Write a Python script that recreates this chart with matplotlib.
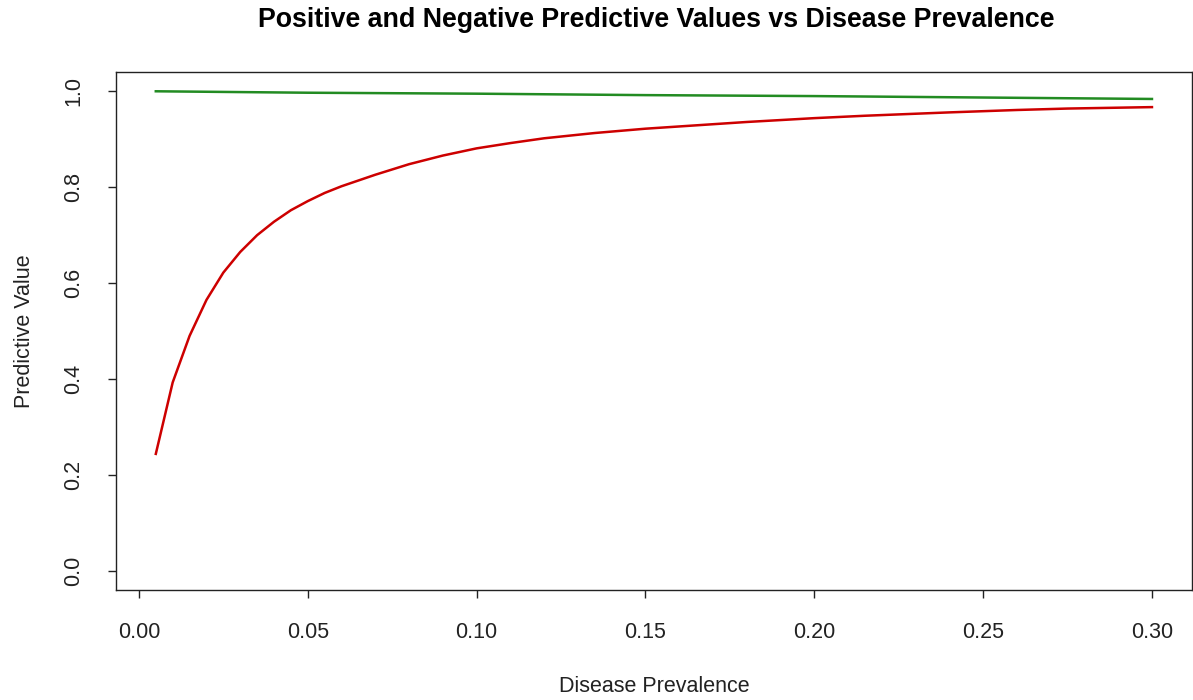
import numpy as np
import matplotlib
matplotlib.use("Agg")
import matplotlib.pyplot as plt

plt.rcParams['font.family'] = ['Liberation Sans', 'DejaVu Sans']

# values
prevalence = [0.005, 0.010, 0.015, 0.020, 0.025, 0.030, 0.035, 0.040, 0.045,
              0.050, 0.055, 0.060, 0.070, 0.080, 0.090, 0.100, 0.110, 0.120,
              0.135, 0.150, 0.165, 0.180, 0.200, 0.215, 0.240, 0.260, 0.275,
              0.300]
ppv = [0.244, 0.393, 0.490, 0.565, 0.622, 0.665, 0.700, 0.728, 0.752,
       0.771, 0.788, 0.802, 0.826, 0.848, 0.866, 0.881, 0.892, 0.902,
       0.913, 0.922, 0.929, 0.936, 0.944, 0.949, 0.956, 0.961, 0.964,
       0.967]
npv_prev = [0.005, 0.050, 0.100, 0.150, 0.200, 0.250, 0.300]
npv = [1.000, 0.997, 0.995, 0.992, 0.990, 0.987, 0.984]

xticks = [0.00, 0.05, 0.10, 0.15, 0.20, 0.25, 0.30]
yticks = [0.0, 0.2, 0.4, 0.6, 0.8, 1.0]

fig = plt.figure(figsize=(11.93, 7.0), dpi=100)
ax = fig.add_axes([0.0972, 0.157, 0.9018, 0.740])

ax.plot(prevalence, ppv, color='#CD0000', linewidth=1.8)
ax.plot(npv_prev, npv, color='#228B22', linewidth=1.8)

ax.set_xlim(0.005 - 0.0118, 0.300 + 0.0118)
ax.set_ylim(-0.04, 1.04)
ax.set_xticks(xticks)
ax.set_xticklabels(['%.2f' % t for t in xticks])
ax.set_yticks(yticks)
ax.set_yticklabels(['%.1f' % t for t in yticks], rotation=90, va='center')
ax.tick_params(direction='out', length=6, width=1.0, labelsize=15.5,
               colors='#222222')
ax.tick_params(axis='x', pad=17)
ax.tick_params(axis='y', pad=17)
for s in ax.spines.values():
    s.set_linewidth(1.0)
    s.set_color('#222222')

ax.set_xlabel('Disease Prevalence', fontsize=15.5, labelpad=24, color='#222222')
ax.set_ylabel('Predictive Value', fontsize=15.5, labelpad=20, color='#222222')
fig.suptitle('Positive and Negative Predictive Values vs Disease Prevalence',
             fontsize=19.3, fontweight='bold', x=0.55, y=0.99)

fig.savefig('out.png', dpi=100)
